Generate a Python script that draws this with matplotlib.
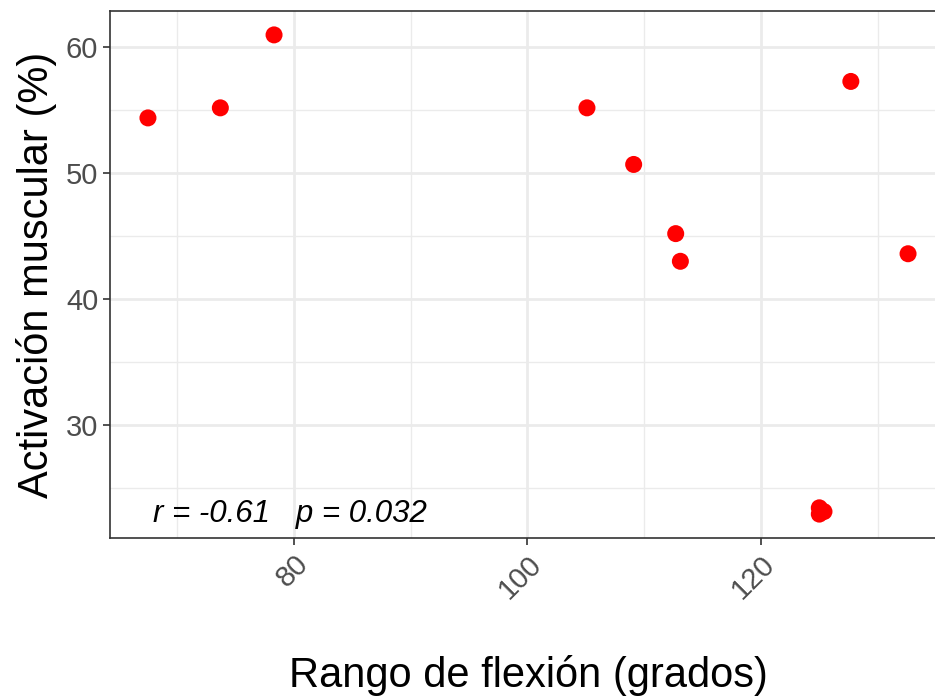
import numpy as np
import matplotlib
matplotlib.use("Agg")
from matplotlib import pyplot as plt
from matplotlib.ticker import MultipleLocator

# rango de flexion (grados) vs activacion muscular (%)
flexion = [67.5, 73.7, 78.3, 105.1, 109.1, 112.7, 113.1, 125.0, 125.4, 125.0, 127.7, 132.6]
activacion = [54.4, 55.2, 61.0, 55.2, 50.7, 45.2, 43.0, 23.4, 23.1, 22.9, 57.3, 43.6]
r_txt = "r = -0.61   p = 0.032"

plt.rcParams['font.family'] = ['Liberation Sans', 'DejaVu Sans']

fig = plt.figure(figsize=(9.35, 7), dpi=100)
ax = fig.add_axes([110/935, 1 - 538/700, (946-110)/935, (538-11)/700])

ax.scatter(flexion, activacion, s=150, color="#FF0000", edgecolors="none", zorder=3)

ax.set_xlim(64.25, 135.85)
ax.set_ylim(21.0, 62.9)
ax.xaxis.set_minor_locator(MultipleLocator(10))
ax.yaxis.set_minor_locator(MultipleLocator(5))
ax.set_xticks([80, 100, 120])
ax.set_yticks([30, 40, 50, 60])

ax.grid(which="major", color="#EBEBEB", lw=2.0, zorder=0)
ax.grid(which="minor", color="#EBEBEB", lw=1.0, zorder=0)
ax.set_axisbelow(True)

for s in ax.spines.values():
    s.set_color("#333333")
    s.set_linewidth(1.2)

ax.tick_params(which="major", length=5, width=1.2, color="#333333",
               labelsize=21, labelcolor="#4D4D4D")
ax.tick_params(which="minor", length=0)
plt.setp(ax.get_xticklabels(), rotation=45, ha="right", rotation_mode="anchor")

ax.set_xlabel("Rango de flexión (grados)", fontsize=30, labelpad=37)
ax.set_ylabel("Activación muscular (%)", fontsize=30, labelpad=6)

ax.text(min(flexion) + 0.4, min(activacion), r_txt, fontsize=22.5, style="italic",
        ha="left", va="center")

plt.savefig("out.png", dpi=100)
